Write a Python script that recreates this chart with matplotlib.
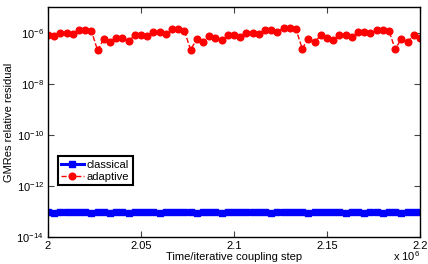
import numpy as np
import matplotlib
matplotlib.use("Agg")
import matplotlib.pyplot as plt
from matplotlib.ticker import FixedLocator, FuncFormatter

plt.rcParams["font.family"] = ["Liberation Sans", "DejaVu Sans"]
plt.rcParams["mathtext.fontset"] = "custom"
plt.rcParams["mathtext.rm"] = "Liberation Sans"
plt.rcParams["mathtext.it"] = "Liberation Sans:italic"

# time steps: 2.0e6 .. 2.2e6, one sample every 0.05e6/15
steps = 2.0e6 + np.arange(61) * (0.05e6 / 15)

# log10 of the GMRes relative residual
adaptive_log = [
    -6.07, -6.14, -5.99, -5.99, -6.04, -5.89, -5.89, -5.93, -6.69, -6.24,
    -6.37, -6.21, -6.21, -6.34, -6.08, -6.07, -6.14, -5.96, -5.96, -6.03,
    -5.87, -5.87, -5.92, -6.67, -6.24, -6.37, -6.11, -6.22, -6.30, -6.10,
    -6.08, -6.16, -5.99, -5.99, -6.04, -5.91, -5.91, -5.95, -5.83, -5.83,
    -5.86, -6.62, -6.24, -6.37, -6.10, -6.22, -6.30, -6.09, -6.07, -6.15,
    -5.98, -5.98, -6.02, -5.89, -5.89, -5.93, -6.64, -6.24, -6.37, -6.09,
    -6.21,
]
classical_log = [
    -13.04, -13.06, -13.03, -13.02, -13.03, -13.02, -13.03, -13.06, -13.03, -13.02,
    -13.06, -13.03, -13.02, -13.06, -13.03, -13.02, -13.02, -13.03, -13.06, -13.03,
    -13.02, -13.02, -13.03, -13.02, -13.06, -13.03, -13.02, -13.03, -13.06, -13.04,
    -13.02, -13.02, -13.03, -13.02, -13.03, -13.02, -13.06, -13.03, -13.02, -13.02,
    -13.03, -13.02, -13.06, -13.03, -13.02, -13.03, -13.02, -13.03, -13.06, -13.03,
    -13.02, -13.06, -13.03, -13.02, -13.06, -13.03, -13.02, -13.06, -13.03, -13.02,
    -13.02,
]

x_ticks = [2.0e6, 2.05e6, 2.1e6, 2.15e6, 2.2e6]
y_ticks = [1e-14, 1e-12, 1e-10, 1e-8, 1e-6]

fig = plt.figure(figsize=(4.28, 2.64), dpi=100)
ax = fig.add_axes([48 / 428, 27.3 / 264, 372 / 428, 229.4 / 264])

ax.semilogy(steps, 10.0 ** np.array(classical_log), "-s", color="blue",
            markersize=4.0, linewidth=2.2, label="classical")
ax.semilogy(steps, 10.0 ** np.array(adaptive_log), "--o", color="red",
            markersize=4.8, linewidth=1.0, label="adaptive")

ax.set_xlim(2.0e6, 2.2e6)
ax.set_ylim(1e-14, 1e-5)
ax.xaxis.set_major_locator(FixedLocator(x_ticks))
ax.xaxis.set_major_formatter(FuncFormatter(lambda v, p: f"{v / 1e6:g}"))
ax.yaxis.set_major_locator(FixedLocator(y_ticks))
ax.yaxis.set_minor_locator(FixedLocator([]))
ax.yaxis.set_major_formatter(
    FuncFormatter(lambda v, p: r"$\mathdefault{10^{%d}}$" % round(np.log10(v))))

ax.tick_params(which="both", direction="in", top=True, right=True,
               length=4, width=0.8, labelsize=8, pad=3, color="#444444")
for s in ax.spines.values():
    s.set_linewidth(1.0)

ax.set_xlabel("Time/iterative coupling step", fontsize=8, labelpad=1)
ax.set_ylabel("GMRes relative residual", fontsize=8, labelpad=2)
fig.text(393 / 428, 1 / 264, r"x 10$^6$", fontsize=8, va="bottom", ha="left")

leg = ax.legend(loc="lower left", bbox_to_anchor=(0.027, 0.225), fontsize=8,
                fancybox=False, framealpha=1, edgecolor="black",
                borderpad=0.3, handlelength=2.0, handletextpad=0.3,
                labelspacing=0.2, borderaxespad=0)
leg.get_frame().set_linewidth(1.5)

fig.savefig("out.png", dpi=100)
